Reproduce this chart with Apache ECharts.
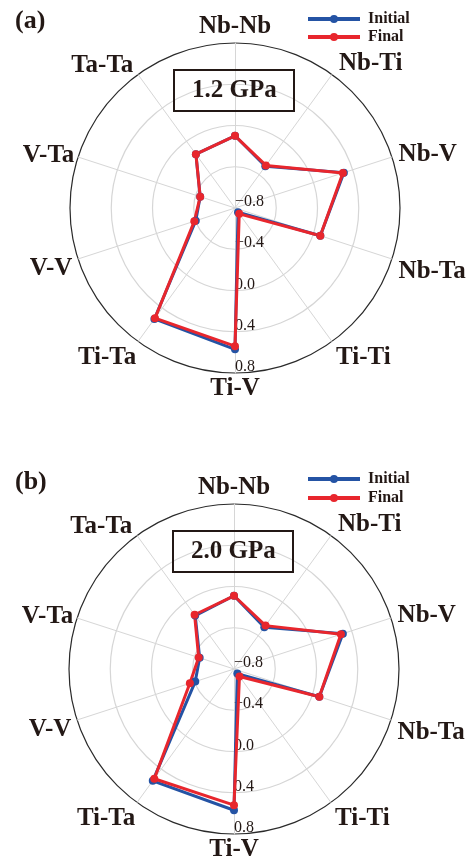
<!DOCTYPE html>
<html><head><meta charset="utf-8">
<script src="https://cdn.jsdelivr.net/npm/echarts@6/dist/echarts.min.js"></script>
<style>html,body{margin:0;padding:0;background:#fff}#c{width:473px;height:863px}</style>
</head><body><div id="c"></div>
<script>
// ---- data ----
const categories = ['Nb-Nb','Nb-Ti','Nb-V','Nb-Ta','Ti-Ti','Ti-V','Ti-Ta','V-V','V-Ta','Ta-Ta'];
const radialTicks = [-0.8, -0.4, 0.0, 0.4, 0.8];
const seriesNames = ['Initial', 'Final'];
const panelLabels = ['(a)', '(b)'];
const pressures = ['1.2 GPa', '2.0 GPa'];
const initialA = [-0.10, -0.30, 0.31, 0.07, -0.75, 0.57, 0.53, -0.40, -0.445, -0.155];
const finalA   = [-0.10, -0.29, 0.30, 0.07, -0.73, 0.54, 0.52, -0.385, -0.445, -0.155];
const initialB = [-0.09, -0.30, 0.31, 0.07, -0.745, 0.57, 0.54, -0.405, -0.45, -0.16];
const finalB   = [-0.09, -0.28, 0.29, 0.07, -0.71, 0.52, 0.515, -0.35, -0.44, -0.15];

// ---- style / layout ----
const FONT = 'Liberation Serif';
const TXT = '#231815';
const BLUE = '#2453a4', RED = '#e8262d';
const GRID = '#d6d6d6';
const panels = [
  {center: [235, 208], titleLeft: 174, titleTop: 70, tagTop: 8, legendTop: 6, legendGap: 2, initial: initialA, final: finalA},
  {center: [234, 669], titleLeft: 173, titleTop: 531, tagTop: 469, legendTop: 466, legendGap: 3, initial: initialB, final: finalB}
];
const nameLayout = {
  'Nb-Nb': {gap: 4, dy: 0}, 'Nb-Ti': {gap: 12, dy: -1}, 'Nb-V': {gap: 7, dy: 0}, 'Nb-Ta': {gap: 7, dy: 10},
  'Ti-Ti': {gap: 7, dy: 10}, 'Ti-V': {gap: 3, dy: 0}, 'Ti-Ta': {gap: 3, dy: 14}, 'V-V': {gap: 6, dy: 8},
  'V-Ta': {gap: 4, dy: 0}, 'Ta-Ta': {gap: 8, dy: -2}
};
// radar places indicators counter-clockwise; reorder so the chart reads clockwise
const order = [0, 9, 8, 7, 6, 5, 4, 3, 2, 1];
const radialAxisCat = 'Ti-V';
const fmt = v => (v < -1e-9 ? '\u2212' : '') + Math.abs(v).toFixed(1);
const ICON = 'path://M0,2h52v4h-52z M22,4a4,4 0 1,1 8,0a4,4 0 1,1 -8,0z';
const NAME_STYLE = {color: TXT, fontFamily: FONT, fontWeight: 'bold', fontSize: 25};

const rich = {};
categories.forEach((c, k) => {
  const dy = nameLayout[c].dy;
  rich['c' + k] = Object.assign({}, NAME_STYLE, {padding: dy >= 0 ? [2 * dy, 0, 0, 0] : [0, 0, -2 * dy, 0]});
});

function indicators() {
  return order.map(k => {
    const name = categories[k];
    const ind = {
      name: name, min: radialTicks[0], max: radialTicks[radialTicks.length - 1],
      nameGap: nameLayout[name].gap
    };
    if (name === radialAxisCat) {
      ind.axisLabel = {
        show: true, margin: 0, align: 'left', verticalAlign: 'bottom', lineHeight: 12,
        fontFamily: FONT, fontSize: 16, color: TXT, formatter: fmt
      };
    }
    return ind;
  });
}

const chart = echarts.init(document.getElementById('c'), null, {renderer: 'canvas'});
chart.setOption({
  animation: false,
  backgroundColor: '#fff',
  title: [
    ...panels.map((p, i) => ({
      text: pressures[i], left: p.titleLeft, top: p.titleTop, padding: [8, 18],
      borderWidth: 2, borderColor: TXT,
      textStyle: {fontFamily: FONT, fontWeight: 'bold', fontSize: 25, color: TXT}
    })),
    ...panels.map((p, i) => ({
      text: panelLabels[i], left: 15, top: p.tagTop, padding: 0,
      textStyle: {fontFamily: FONT, fontWeight: 'bold', fontSize: 26, color: TXT}
    }))
  ],
  legend: panels.map(p => ({
    orient: 'vertical', left: 303, top: p.legendTop, itemGap: p.legendGap,
    itemWidth: 52, itemHeight: 8, icon: ICON, data: seriesNames, selectedMode: false,
    textStyle: {fontFamily: FONT, fontWeight: 'bold', fontSize: 16, color: TXT, padding: [0, 0, 0, 3]}
  })),
  radar: panels.map(p => ({
    center: p.center, radius: 165, startAngle: 90, shape: 'circle',
    splitNumber: radialTicks.length - 1,
    indicator: indicators(),
    axisName: Object.assign({}, NAME_STYLE, {
      formatter: name => '{c' + categories.indexOf(name) + '|' + name + '}',
      rich: rich
    }),
    axisLine: {show: true, lineStyle: {color: GRID, width: 1}},
    axisTick: {show: false},
    axisLabel: {show: false},
    splitArea: {show: false},
    splitLine: {show: true, lineStyle: {color: [GRID, GRID, GRID, GRID, '#2a2a2a'], width: 1.2}}
  })),
  series: panels.map((p, i) => ({
    type: 'radar', radarIndex: i, symbol: 'circle', symbolSize: 8,
    data: [
      {name: seriesNames[0], value: order.map(k => p.initial[k]),
       itemStyle: {color: BLUE}, lineStyle: {color: BLUE, width: 3}},
      {name: seriesNames[1], value: order.map(k => p.final[k]),
       itemStyle: {color: RED}, lineStyle: {color: RED, width: 3}}
    ]
  }))
});
</script></body></html>
